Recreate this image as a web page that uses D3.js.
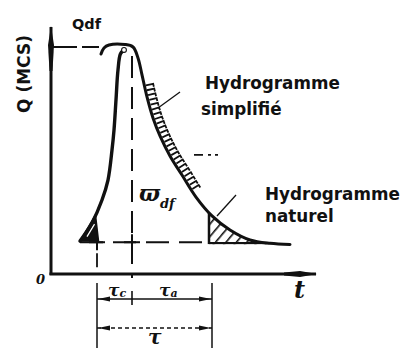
<!DOCTYPE html>
<html>
<head>
<meta charset="utf-8">
<script src="https://cdn.jsdelivr.net/npm/d3@7/dist/d3.min.js"></script>
<style>
  html, body { margin: 0; padding: 0; background: #fff; }
  svg { display: block; }
  .lbl { font-family: "DejaVu Sans", sans-serif; font-weight: bold; fill: #111; }
  .sym { font-family: "DejaVu Serif", "Liberation Serif", serif; font-style: italic; font-weight: bold; fill: #111; }
</style>
</head>
<body>
<script>
// ---- hydrograph data (time units, discharge in % of Qdf) ----
const qdf = 100;              // peak discharge Qdf
const baseQ = 14;             // base flow level
const tStart = 2.9;           // start of the rise
const tC = 4.6;               // end of τc
const tPeak = 8.1;            // time of the peak
const tEnd = 16.1;            // end of τ
const tHatch = 15.8;          // start of the hatched tail
const tAxisEnd = 26.5;
const qAxisEnd = 108.8;

// natural hydrograph, rising limb (t, Q)
const risingLimb = [
  [2.9, 14.5], [3.4, 17.6], [4.1, 22.5], [5.1, 32.6], [5.7, 41.4],
  [6.1, 54.6], [6.3, 63.4], [6.5, 76.7], [6.7, 89.9], [6.95, 97.0], [7.3, 98.7]
];
// crest and recession limb (t, Q)
const recession = [
  [5.0, 96.9], [5.3, 99.6], [5.8, 100.9], [7.4, 101.1], [8.2, 100.0],
  [8.7, 95.2], [9.1, 87.7], [9.6, 78.0], [10.2, 68.7], [10.9, 60.8],
  [11.9, 52.0], [13.1, 43.6], [14.5, 33.9], [16.1, 25.6], [17.9, 19.4],
  [19.9, 15.0], [21.9, 13.5], [23.9, 13.0]
];
// small hatched wedge at the foot of the rise
const footWedge = [[2.9, 14.5], [4.45, 26.0], [4.75, 14.5]];
// range of Q over which the simplified-hydrograph comb is drawn
const combRange = [37, 83];

const W = 408, H = 348;
const x = d3.scaleLinear().domain([0, tAxisEnd]).range([51, 316]);
const y = d3.scaleLinear().domain([0, qdf]).range([274, 47]);

const svg = d3.select("body").append("svg").attr("width", W).attr("height", H);
const ink = "#111";

const defs = svg.append("defs");
const pat = defs.append("pattern")
  .attr("id", "hatch").attr("patternUnits", "userSpaceOnUse")
  .attr("width", 8).attr("height", 8)
  .attr("patternTransform", "rotate(40)");
pat.append("rect").attr("width", 8).attr("height", 8).attr("fill", "#fff");
pat.append("line").attr("x1", 0).attr("y1", 0).attr("x2", 0).attr("y2", 8)
  .attr("stroke", ink).attr("stroke-width", 3.2);

const line = d3.line().x(d => x(d[0])).y(d => y(d[1])).curve(d3.curveCatmullRom.alpha(0.5));

// ---- axes ----
svg.append("line").attr("x1", x(0)).attr("x2", x(0)).attr("y1", y(qAxisEnd)).attr("y2", y(0) + 1)
  .attr("stroke", ink).attr("stroke-width", 3);
svg.append("path")
  .attr("d", `M${x(0)},${y(qAxisEnd) - 1} L${x(0) + 3},${y(qAxisEnd) + 18} L${x(0) + 1.5},${y(qAxisEnd) + 44} L${x(0) - 1.5},${y(qAxisEnd) + 44} L${x(0) - 3},${y(qAxisEnd) + 18} Z`)
  .attr("fill", ink);
svg.append("line").attr("x1", x(0) - 1.5).attr("x2", x(tAxisEnd)).attr("y1", y(0)).attr("y2", y(0))
  .attr("stroke", ink).attr("stroke-width", 3);
svg.append("path")
  .attr("d", `M${x(tAxisEnd) + 1},${y(0)} L${x(tAxisEnd) - 16},${y(0) - 3} L${x(tAxisEnd) - 32},${y(0) - 1.5} L${x(tAxisEnd) - 32},${y(0) + 1.5} L${x(tAxisEnd) - 16},${y(0) + 3} Z`)
  .attr("fill", ink);

// ---- reference dashed lines ----
svg.append("line").attr("x1", x(0) + 2).attr("x2", x(4.8)).attr("y1", y(qdf)).attr("y2", y(qdf))
  .attr("stroke", ink).attr("stroke-width", 2).attr("stroke-dasharray", "24,5");
svg.append("line").attr("x1", x(tPeak)).attr("x2", x(tPeak)).attr("y1", y(96)).attr("y2", y(0) + 4)
  .attr("stroke", ink).attr("stroke-width", 2).attr("stroke-dasharray", "22,9");
svg.append("line").attr("x1", x(tStart)).attr("x2", x(tHatch)).attr("y1", y(baseQ)).attr("y2", y(baseQ))
  .attr("stroke", ink).attr("stroke-width", 2).attr("stroke-dasharray", "23,10");
svg.append("line").attr("x1", x(tC)).attr("x2", x(tC)).attr("y1", y(baseQ) - 12).attr("y2", y(0) + 2)
  .attr("stroke", ink).attr("stroke-width", 1.8).attr("stroke-dasharray", "14,9");
// crosses where the time markers meet the base flow line
[tC, tPeak].forEach(t => {
  svg.append("line").attr("x1", x(t) - 8).attr("x2", x(t) + 8).attr("y1", y(baseQ)).attr("y2", y(baseQ))
    .attr("stroke", ink).attr("stroke-width", 2);
  svg.append("line").attr("x1", x(t)).attr("x2", x(t)).attr("y1", y(baseQ) - 8).attr("y2", y(baseQ) + 8)
    .attr("stroke", ink).attr("stroke-width", 2);
});
// short dashes right of the recession
svg.append("line").attr("x1", x(14.3)).attr("x2", x(17.5)).attr("y1", y(52.5)).attr("y2", y(52.5))
  .attr("stroke", ink).attr("stroke-width", 1.6).attr("stroke-dasharray", "9,5,3,4,3,30");

// ---- hatched tail under the recession ----
const under = d3.area().x(d => x(d[0])).y1(d => y(d[1])).y0(y(baseQ) + 2)
  .curve(d3.curveCatmullRom.alpha(0.5));
defs.append("clipPath").attr("id", "underCurve").append("path").attr("d", under(recession));
const tailG = svg.append("g").attr("clip-path", "url(#underCurve)");
tailG.append("rect").attr("x", x(tHatch)).attr("y", y(40)).attr("width", x(tAxisEnd) - x(tHatch))
  .attr("height", y(0) - y(40)).attr("fill", "url(#hatch)");
tailG.append("line").attr("x1", x(tHatch)).attr("x2", x(tHatch)).attr("y1", y(40)).attr("y2", y(baseQ) + 2)
  .attr("stroke", ink).attr("stroke-width", 2.5);
tailG.append("line").attr("x1", x(tHatch)).attr("x2", x(tAxisEnd)).attr("y1", y(baseQ) + 1).attr("y2", y(baseQ) + 1)
  .attr("stroke", ink).attr("stroke-width", 2.5);

// ---- foot wedge ----
svg.append("path").attr("d", d3.line().x(d => x(d[0])).y(d => y(d[1]))(footWedge) + "Z")
  .attr("fill", ink).attr("stroke", ink).attr("stroke-width", 1.5).attr("stroke-linejoin", "round");
svg.append("line").attr("x1", x(3.6)).attr("y1", y(16.5)).attr("x2", x(4.35)).attr("y2", y(22))
  .attr("stroke", "#fff").attr("stroke-width", 1.3);

// ---- hydrograph curves ----
svg.append("path").attr("d", line(risingLimb)).attr("fill", "none")
  .attr("stroke", ink).attr("stroke-width", 3.4).attr("stroke-linecap", "round");
const recPath = svg.append("path").attr("d", line(recession)).attr("fill", "none")
  .attr("stroke", ink).attr("stroke-width", 3).attr("stroke-linecap", "round");

// comb teeth on the outer side of the recession (simplified hydrograph band)
const node = recPath.node();
const L = node.getTotalLength();
const teeth = [];
let last = -Infinity;
for (let s = 0; s < L - 1; s += 0.5) {
  const p = node.getPointAtLength(s);
  const q = y.invert(p.y);
  if (x.invert(p.x) > tPeak && q >= combRange[0] && q <= combRange[1] && s - last >= 5) {
    const p2 = node.getPointAtLength(s + 1);
    let tx = p2.x - p.x, ty = p2.y - p.y;
    const n = Math.hypot(tx, ty); tx /= n; ty /= n;
    const nx = ty, ny = -tx;
    const bx = p.x + nx * 1.5, by = p.y + ny * 1.5;
    const ex = p.x + nx * 9, ey = p.y + ny * 9;
    teeth.push(`M${bx},${by} L${ex},${ey} L${ex + tx * 3},${ey + ty * 3}`);
    last = s;
  }
}
svg.append("path").attr("d", teeth.join(" ")).attr("fill", "none")
  .attr("stroke", ink).attr("stroke-width", 1.8);

// peak marker
svg.append("circle").attr("cx", x(7.3)).attr("cy", y(98.7)).attr("r", 2.4)
  .attr("fill", "#fff").attr("stroke", ink).attr("stroke-width", 1.1);

// ---- leader lines ----
svg.append("line").attr("x1", 158).attr("y1", 108).attr("x2", 180).attr("y2", 92)
  .attr("stroke", ink).attr("stroke-width", 1.3);
svg.append("line").attr("x1", 217).attr("y1", 216).attr("x2", 236).attr("y2", 195)
  .attr("stroke", ink).attr("stroke-width", 1.3);

// ---- time dimensions ----
const dimY1 = 299, dimY2 = 328;
[tC, tEnd].forEach(t => {
  svg.append("line").attr("x1", x(t)).attr("x2", x(t)).attr("y1", 283).attr("y2", H)
    .attr("stroke", ink).attr("stroke-width", 1.5);
});
svg.append("line").attr("x1", x(tPeak)).attr("x2", x(tPeak)).attr("y1", 291).attr("y2", 305)
  .attr("stroke", ink).attr("stroke-width", 1.6);
svg.append("line").attr("x1", x(tC)).attr("x2", x(tEnd)).attr("y1", dimY1).attr("y2", dimY1)
  .attr("stroke", ink).attr("stroke-width", 1.6);
svg.append("line").attr("x1", x(tC)).attr("x2", x(tEnd)).attr("y1", dimY2).attr("y2", dimY2)
  .attr("stroke", ink).attr("stroke-width", 1.3).attr("stroke-dasharray", "4,3");
function arrowHead(xt, yy, dir) {
  svg.append("path")
    .attr("d", `M${xt},${yy} L${xt + dir * 12},${yy - 2.6} L${xt + dir * 12},${yy + 2.6} Z`)
    .attr("fill", ink);
}
[dimY1, dimY2].forEach(yy => { arrowHead(x(tC) + 1, yy, 1); arrowHead(x(tEnd) - 1, yy, -1); });

// ---- labels ----
svg.append("text").attr("class", "lbl").attr("x", 72).attr("y", 29).attr("font-size", 14.5).text("Qdf");
svg.append("text").attr("class", "lbl").attr("font-size", 17)
  .attr("transform", "translate(30,74) rotate(-90)").attr("text-anchor", "middle").text("Q (MCS)");
svg.append("text").attr("class", "lbl").attr("x", 205).attr("y", 89).attr("font-size", 16.8).text("Hydrogramme");
svg.append("text").attr("class", "lbl").attr("x", 201).attr("y", 115).attr("font-size", 16.8).text("simplifié");
svg.append("text").attr("class", "lbl").attr("x", 265).attr("y", 200).attr("font-size", 16.8).text("Hydrogramme");
svg.append("text").attr("class", "lbl").attr("x", 265).attr("y", 222).attr("font-size", 16.8).text("naturel");

const wdf = svg.append("text").attr("class", "sym").attr("x", 139).attr("y", 201).attr("font-size", 22);
wdf.append("tspan").text("ϖ");
wdf.append("tspan").attr("font-size", 13).attr("dy", 7).text("df");

svg.append("text").attr("class", "sym").attr("x", 36).attr("y", 284).attr("font-size", 13).text("0");
svg.append("text").attr("class", "sym").attr("x", 294).attr("y", 298).attr("font-size", 24).text("t");

const tcL = svg.append("text").attr("class", "sym").attr("x", 108).attr("y", 296).attr("font-size", 17);
tcL.append("tspan").text("τ");
tcL.append("tspan").attr("font-size", 11).attr("dy", 1).text("c");
const taL = svg.append("text").attr("class", "sym").attr("x", 159).attr("y", 296).attr("font-size", 17);
taL.append("tspan").text("τ");
taL.append("tspan").attr("font-size", 11).attr("dy", 1).text("a");
svg.append("text").attr("class", "sym").attr("x", 148).attr("y", 344).attr("font-size", 20).text("τ");
</script>
</body>
</html>
